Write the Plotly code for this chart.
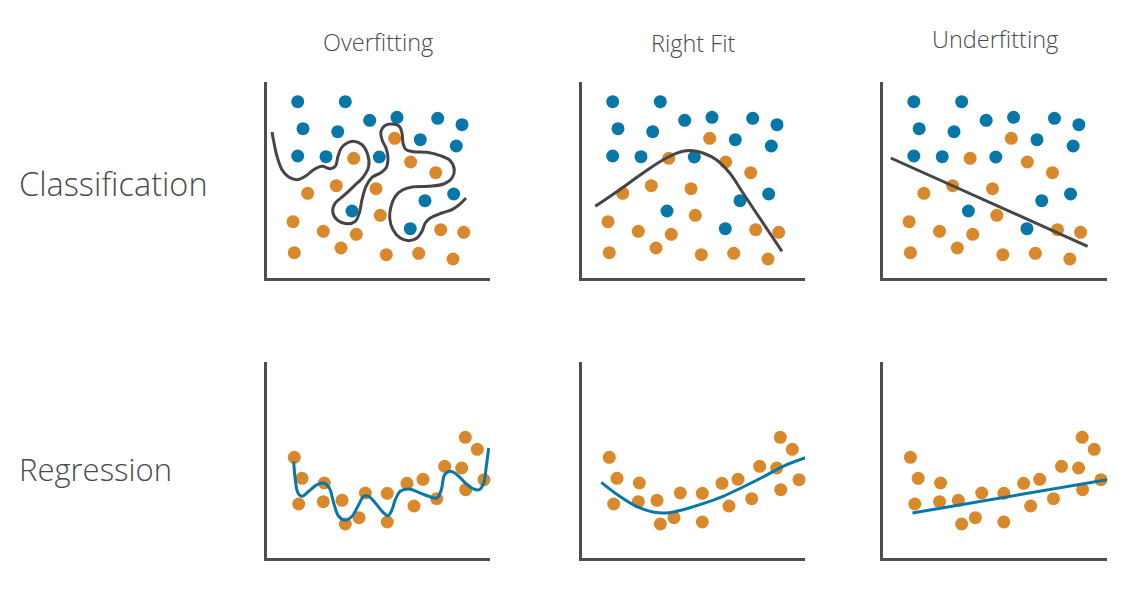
import plotly.graph_objects as go

W, H = 1128, 592

# ---------------- data (panel-local units) ----------------
blue_x = [30.7, 78.3, 36, 70.7, 102.7, 130, 170.7, 195, 153.3, 189.3, 30.7, 59, 112.3, 85, 158, 186.7, 143.3]
blue_y = [176.3, 176.3, 149.3, 146.3, 157.7, 160.7, 159.7, 153.3, 138.3, 132, 122, 121.3, 121, 67, 77.3, 84, 49.3]

orange_x = [127.7, 86.7, 143.7, 168.7, 40.7, 69.3, 109, 113.3, 26, 56.3, 89.3, 173.7, 196.7, 27.3, 74, 119.3, 151.7, 186]
orange_y = [139.7, 119.7, 116, 105.3, 84.7, 92.3, 89.3, 62.7, 56.3, 46.7, 43.7, 48.3, 45.7, 25.3, 30, 23.3, 24.7, 19]

over_cls_x = [5, 6.7, 10, 15, 21.7, 30, 38.3, 46.7, 55, 63.3, 68.3, 71, 74.3, 80, 86.7, 95, 100.7, 101.7,
              96.7, 86.7, 76.7, 68.3, 65.7, 70, 80, 88.3, 92.3, 95, 99, 105, 113.3, 119, 121, 119, 115,
              114, 117.7, 125, 132.3, 135, 136, 139, 146.7, 160, 173.3, 183.3, 187.3, 185, 176.7, 161.7,
              145, 135, 128.3, 124, 122.7, 126, 133.3, 141.7, 150, 155, 158.3, 163.3, 175, 185, 192.3, 199]
over_cls_y = [146, 136.7, 121.7, 108.3, 101, 98.3, 101.7, 108.3, 111.7, 109.3, 111.7, 121.7, 130, 135,
              136.7, 133.3, 123.3, 111.7, 101.7, 91.7, 82.3, 75, 66.7, 58.3, 54.3, 56.7, 65, 78.3, 91.7,
              100.7, 105, 110, 120, 130, 138.3, 146.7, 152.3, 154, 151.7, 145, 135, 128.3, 126.3, 125.7,
              122.3, 117.3, 108.3, 100, 94, 91.7, 91, 87.7, 81.7, 71.7, 60, 48.3, 40, 37.3, 40, 46.7, 55,
              60, 65, 68.3, 73.3, 80]

right_cls_x = [13.3, 37.7, 61, 84.3, 101, 111, 121, 134.3, 147.7, 161, 174.3, 187.7, 200]
right_cls_y = [71.7, 88.3, 105, 120, 126.7, 127.3, 125, 118.3, 105, 85, 65, 45, 26.7]

under_cls_x = [7.7, 203.7]
under_cls_y = [120, 31.7]

reg_x = [27.3, 35, 31.7, 57.3, 56.3, 75, 78.3, 92, 98.3, 120.3, 120.3, 140, 147, 156, 169.7, 177.7,
         194.7, 198.7, 198.3, 210.3, 217, 227]
reg_y = [100.7, 79.7, 54, 75, 56.3, 57.7, 34, 40.3, 65, 64.7, 36, 74.7, 52, 78.7, 59.3, 91.7, 90,
         68.3, 120.7, 108.7, 78.3, 97.3]

over_reg_x = [26.7, 28.3, 31, 35, 41.7, 50, 56.7, 62.3, 66.7, 71.7, 78.3, 85, 91.7, 96.7, 101.7, 108.3,
              116.7, 121, 125, 128.3, 133.3, 141.7, 151.7, 161.7, 170, 174.3, 177.7, 183.3, 190, 198.3,
              206.7, 212.3, 216.7, 219.3, 221.7]
over_reg_y = [96.7, 78.3, 65, 61.7, 66.7, 73.3, 75, 70, 55, 41.7, 37.7, 41.7, 53.3, 61.7, 61.7, 55, 45,
              42.3, 48.3, 58.3, 66.7, 69, 65.7, 61.7, 60, 68.3, 83.3, 86.7, 83.3, 75, 69, 68.3, 75, 91.7, 110]

right_reg_x = [19.3, 37.7, 54.3, 71, 84.3, 101, 121, 141, 161, 181, 201, 227.7]
right_reg_y = [75.7, 61.7, 51.7, 46, 45, 48.3, 54.3, 61.7, 71, 81, 91.7, 101.7]

under_reg_x = [29.3, 233.3]
under_reg_y = [45, 80]

col_titles = ["Overfitting", "Right Fit", "Underfitting"]
row_titles = ["Classification", "Regression"]

# ---------------- styles ----------------
BLUE = "#0776a9"
ORANGE = "#d9882b"
DARK = "#454545"
AXIS = "#4d4d4d"
TEXT = "#4a4a4a"
FONT = "Open Sans"
MS = 13

col_px = [(267, 490), (582, 805), (883, 1107)]
row_px = [(82, 278), (362, 558)]
XR = [0, 223]
YR = [0, 196]

fig = go.Figure()
layout_axes = {}

curves_cls = [(over_cls_x, over_cls_y), (right_cls_x, right_cls_y), (under_cls_x, under_cls_y)]
curves_reg = [(over_reg_x, over_reg_y), (right_reg_x, right_reg_y), (under_reg_x, under_reg_y)]

k = 0
for r in range(2):
    for c in range(3):
        k += 1
        xa = "x" if k == 1 else f"x{k}"
        ya = "y" if k == 1 else f"y{k}"
        x0, x1 = col_px[c]
        y0, y1 = row_px[r]
        common = dict(showgrid=False, zeroline=False, showticklabels=False, ticks="",
                      showline=True, linecolor=AXIS, linewidth=3, fixedrange=True)
        layout_axes["xaxis" if k == 1 else f"xaxis{k}"] = dict(
            domain=[x0 / W, x1 / W], range=XR, anchor=ya, **common)
        layout_axes["yaxis" if k == 1 else f"yaxis{k}"] = dict(
            domain=[1 - y1 / H, 1 - y0 / H], range=YR, anchor=xa, **common)
        if r == 0:
            fig.add_trace(go.Scatter(x=blue_x, y=blue_y, mode="markers", xaxis=xa, yaxis=ya,
                                     marker=dict(color=BLUE, size=MS, line=dict(width=0)),
                                     cliponaxis=False, hoverinfo="skip"))
            fig.add_trace(go.Scatter(x=orange_x, y=orange_y, mode="markers", xaxis=xa, yaxis=ya,
                                     marker=dict(color=ORANGE, size=MS, line=dict(width=0)),
                                     cliponaxis=False, hoverinfo="skip"))
            cx, cy = curves_cls[c]
            fig.add_trace(go.Scatter(x=cx, y=cy, mode="lines", xaxis=xa, yaxis=ya,
                                     line=dict(color=DARK, width=3, shape="spline", smoothing=1),
                                     cliponaxis=False, hoverinfo="skip"))
        else:
            fig.add_trace(go.Scatter(x=reg_x, y=reg_y, mode="markers", xaxis=xa, yaxis=ya,
                                     marker=dict(color=ORANGE, size=MS, line=dict(width=0)),
                                     cliponaxis=False, hoverinfo="skip"))
            cx, cy = curves_reg[c]
            fig.add_trace(go.Scatter(x=cx, y=cy, mode="lines", xaxis=xa, yaxis=ya,
                                     line=dict(color=BLUE, width=3, shape="spline", smoothing=1),
                                     cliponaxis=False, hoverinfo="skip"))

annotations = []
title_pos = [(378, 42), (693, 43), (995, 39)]
for t, (px, py) in zip(col_titles, title_pos):
    annotations.append(dict(text=t, x=px / W, y=1 - py / H, xref="paper", yref="paper",
                            xanchor="center", yanchor="middle", showarrow=False,
                            font=dict(family=FONT, size=23.5, color=TEXT, weight=300)))
row_pos = [(17, 183, 32.5), (17, 469, 31)]
for t, (px, py, fs) in zip(row_titles, row_pos):
    annotations.append(dict(text=t, x=px / W, y=1 - py / H, xref="paper", yref="paper",
                            xanchor="left", yanchor="middle", showarrow=False,
                            font=dict(family=FONT, size=fs, color=TEXT, weight=300)))

fig.update_layout(width=W, height=H, margin=dict(l=0, r=0, t=0, b=0), showlegend=False,
                  paper_bgcolor="white", plot_bgcolor="white", annotations=annotations,
                  **layout_axes)

fig.write_html("out.html")
